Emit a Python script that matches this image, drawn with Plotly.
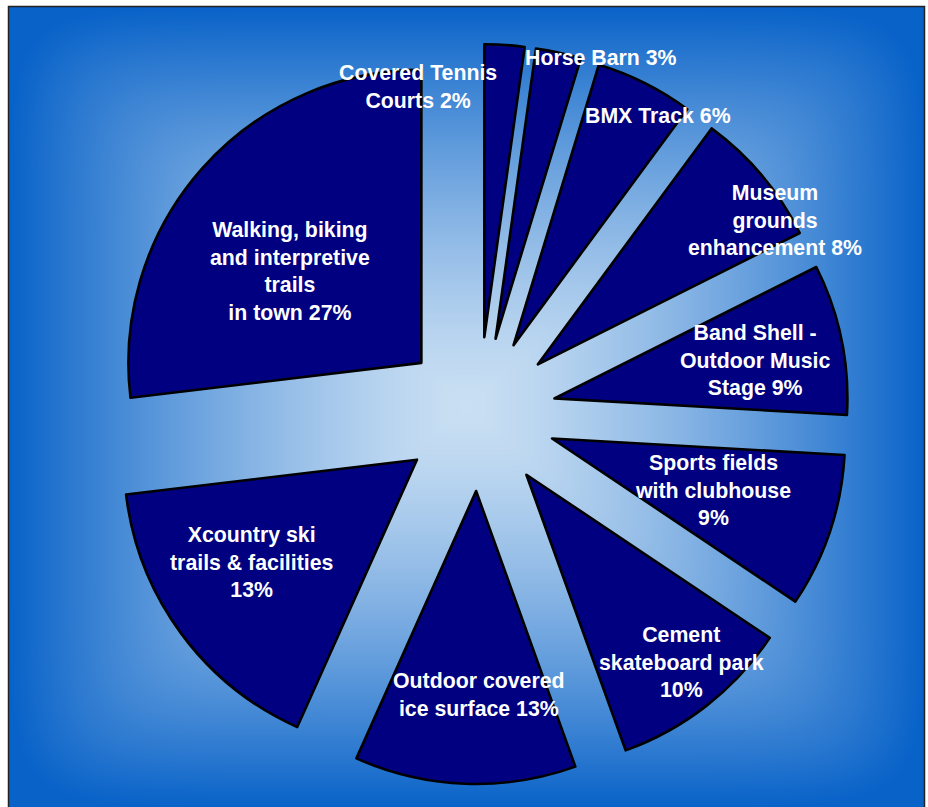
import base64, struct, zlib
import numpy as np
import plotly.graph_objects as go

# ---------------- data ----------------
categories = [
    "Covered Tennis Courts", "Horse Barn", "BMX Track", "Museum grounds enhancement",
    "Band Shell - Outdoor Music Stage", "Sports fields with clubhouse",
    "Cement skateboard park", "Outdoor covered ice surface",
    "Xcountry ski trails & facilities", "Walking, biking and interpretive trails in town",
]
values = [2.2, 2.5, 5.4, 7.5, 8.3, 8.5, 10.1, 12.2, 16.4, 26.9]
label_texts = [
    "Covered Tennis<br>Courts 2%",
    "Horse Barn 3%",
    "BMX Track 6%",
    "Museum<br>grounds<br>enhancement 8%",
    "Band Shell -<br>Outdoor Music<br>Stage 9%",
    "Sports fields<br>with clubhouse<br>9%",
    "Cement<br>skateboard park<br>10%",
    "Outdoor covered<br>ice surface 13%",
    "Xcountry ski<br>trails & facilities<br>13%",
    "Walking, biking<br>and interpretive<br>trails<br>in town 27%",
]

# ---------------- layout helpers ----------------
W, H = 928, 807
label_pos = [(418, 87), (601, 58), (658, 116), (775, 221), (755, 360),
             (713, 490), (681, 662), (479, 695), (251, 562), (290, 271)]

def png_uri(rgb):
    h, w, _ = rgb.shape
    raw = b"".join(b"\x00" + rgb[i].tobytes() for i in range(h))
    def chunk(tag, data):
        c = struct.pack(">I", len(data)) + tag + data
        return c + struct.pack(">I", zlib.crc32(tag + data) & 0xffffffff)
    png = (b"\x89PNG\r\n\x1a\n"
           + chunk(b"IHDR", struct.pack(">IIBBBBB", w, h, 8, 2, 0, 0, 0))
           + chunk(b"IDAT", zlib.compress(raw, 9))
           + chunk(b"IEND", b""))
    return "data:image/png;base64," + base64.b64encode(png).decode()

# rectangular "from centre" gradient background (slightly softened corners)
gx0, gy0, gw, gh = 9, 7, 915, 800
yy, xx = np.mgrid[0:gh, 0:gw].astype(float)
cxg, cyg = 458.0, 400.0
ax = np.abs(xx + 0.5 - cxg) / (gw / 2)
ay = np.abs(yy + 0.5 - cyg) / (gh / 2)
k = 10.0
t = (ax ** k + ay ** k) ** (1 / k)
t = np.clip(t, 0, 1) ** 1.4
c0 = np.array([201, 223, 243], float)
c1 = np.array([8, 98, 200], float)
img = (c0[None, None, :] + (c1 - c0)[None, None, :] * t[..., None]).round().astype(np.uint8)
bg_uri = png_uri(img)

# ---------------- figure ----------------
cx, cy, half = 479, 414, 370
fig = go.Figure(go.Pie(
    labels=categories,
    values=values,
    sort=False,
    direction="clockwise",
    rotation=0,
    pull=[0.263] * len(values),
    marker=dict(colors=["#000080"] * len(values), line=dict(color="black", width=2.6)),
    textinfo="none",
    hoverinfo="label+percent",
    showlegend=False,
    domain=dict(x=[(cx - half) / W, (cx + half) / W],
                y=[(H - cy - half) / H, (H - cy + half) / H]),
))

annotations = []
for txt, (px, py) in zip(label_texts, label_pos):
    annotations.append(dict(
        text=txt, x=px / W, y=1 - py / H, xref="paper", yref="paper",
        xanchor="center", yanchor="middle", showarrow=False, align="center",
        font=dict(family="Liberation Sans, Arial, sans-serif", size=21.3,
                  color="white", weight="bold"),
    ))

fig.update_layout(
    width=W, height=H,
    margin=dict(l=0, r=0, t=0, b=0),
    paper_bgcolor="white",
    plot_bgcolor="white",
    annotations=annotations,
    images=[dict(source=bg_uri, xref="paper", yref="paper",
                 x=gx0 / W, y=1 - gy0 / H, sizex=gw / W, sizey=gh / H,
                 xanchor="left", yanchor="top", sizing="stretch", layer="below")],
    shapes=[dict(type="rect", xref="paper", yref="paper",
                 x0=(gx0 - 0.5) / W, x1=(gx0 + gw + 0.5) / W,
                 y0=1 - (gy0 + gh + 5) / H, y1=1 - (gy0 - 0.5) / H,
                 line=dict(color="#222222", width=1.5), layer="above")],
)

fig.write_html("out.html")
